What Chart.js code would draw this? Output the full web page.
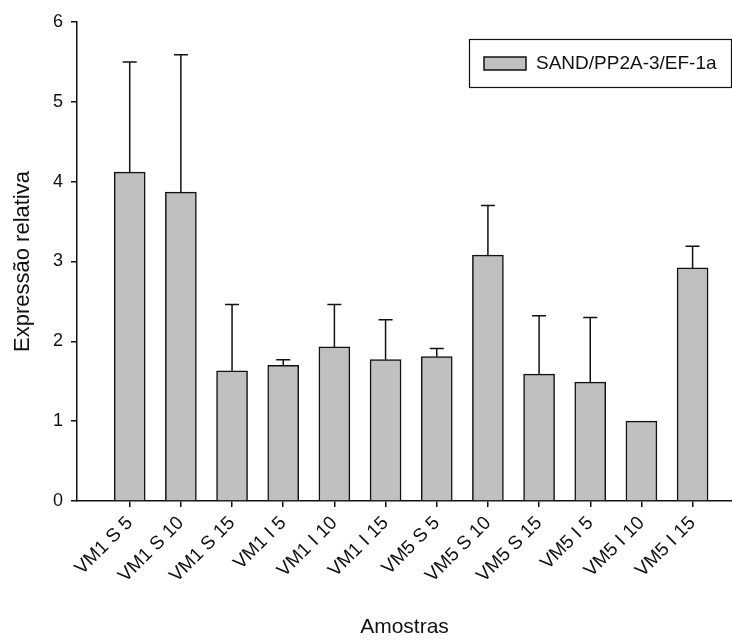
<!DOCTYPE html>
<html lang="pt">
<head>
<meta charset="UTF-8">
<title>Expressão relativa - Amostras</title>
<script src="https://cdn.jsdelivr.net/npm/chart.js"></script>
<style>
    body { margin: 0; background: #fff; }
    #wrap { width: 732px; height: 641px; }
</style>
</head>
<body>
<div id="wrap"><canvas id="expChart" width="732" height="641"></canvas></div>
<script>
// dados
const amostras = ['VM1 S 5', 'VM1 S 10', 'VM1 S 15', 'VM1 I 5', 'VM1 I 10', 'VM1 I 15',
                  'VM5 S 5', 'VM5 S 10', 'VM5 S 15', 'VM5 I 5', 'VM5 I 10', 'VM5 I 15'];
const medias = [4.12, 3.87, 1.63, 1.70, 1.93, 1.77, 1.81, 3.08, 1.59, 1.49, 1.00, 2.92];
const desvios = [1.38, 1.72, 0.83, 0.07, 0.53, 0.50, 0.10, 0.62, 0.73, 0.81, 0, 0.27];
const yTicks = [0, 1, 2, 3, 4, 5, 6];
const serieNome = 'SAND/PP2A-3/EF-1a';

const FONT = "Arial, 'Liberation Sans', sans-serif";

// barras de erro (só para cima) + legenda com caixa
const errorBars = {
    id: 'errorBars',
    afterDatasetsDraw(chart) {
        const ctx = chart.ctx;
        const y = chart.scales.y;
        const meta = chart.getDatasetMeta(0);
        ctx.save();
        ctx.strokeStyle = '#111';
        ctx.lineWidth = 1.5;
        meta.data.forEach((bar, i) => {
            if (!desvios[i]) return;
            const yTop = y.getPixelForValue(medias[i] + desvios[i]);
            ctx.beginPath();
            ctx.moveTo(bar.x, bar.y);
            ctx.lineTo(bar.x, yTop);
            ctx.moveTo(bar.x - 7, yTop);
            ctx.lineTo(bar.x + 7, yTop);
            ctx.stroke();
        });
        ctx.restore();
    }
};

const boxLegend = {
    id: 'boxLegend',
    afterDraw(chart) {
        const ctx = chart.ctx;
        const a = chart.chartArea;
        const bx = a.right - 263, by = a.top + 17, bw = 262, bh = 48;
        ctx.save();
        ctx.strokeStyle = '#111';
        ctx.lineWidth = 1.2;
        ctx.strokeRect(bx + 0.5, by + 0.5, bw, bh);
        ctx.fillStyle = '#c0c0c0';
        ctx.fillRect(bx + 15, by + 18, 42, 13);
        ctx.lineWidth = 1.5;
        ctx.strokeRect(bx + 15, by + 18, 42, 13);
        ctx.fillStyle = '#111';
        ctx.font = '19px ' + FONT;
        ctx.textBaseline = 'middle';
        ctx.fillText(chart.data.datasets[0].label, bx + 67, by + 25);
        ctx.restore();
    }
};

new Chart(document.getElementById('expChart'), {
    type: 'bar',
    data: {
        datasets: [{
            label: serieNome,
            data: medias.map((v, i) => ({ x: i + 1, y: v })),
            backgroundColor: '#c0c0c0',
            borderColor: '#111',
            borderWidth: 1.5,
            barThickness: 31
        }]
    },
    options: {
        responsive: false,
        animation: false,
        layout: { padding: { top: 22, right: 0, left: 0, bottom: 0 } },
        plugins: { legend: { display: false }, tooltip: { enabled: false } },
        scales: {
            x: {
                type: 'linear',
                offset: false,
                min: -0.03,
                max: 12.77,
                afterBuildTicks: s => { s.ticks = amostras.map((_, i) => ({ value: i + 1 })); },
                afterFit: s => { s.height = 140; s.paddingLeft = 0; s.paddingRight = 0; },
                grid: { offset: false, drawOnChartArea: false, drawTicks: true, tickLength: 6, color: '#111', lineWidth: 1.5 },
                border: { display: true, color: '#111', width: 1.5 },
                ticks: {
                    autoSkip: false,
                    minRotation: 45,
                    maxRotation: 45,
                    padding: 5,
                    color: '#111',
                    font: { family: FONT, size: 19 },
                    callback: v => amostras[v - 1]
                },
                title: {
                    display: true,
                    text: 'Amostras',
                    color: '#111',
                    font: { family: FONT, size: 21 },
                    padding: { top: 0, bottom: 1 }
                }
            },
            y: {
                min: 0,
                max: 6,
                afterBuildTicks: s => { s.ticks = yTicks.map(v => ({ value: v })); },
                afterFit: s => { s.width = 77; },
                grid: { drawOnChartArea: false, drawTicks: true, tickLength: 6, color: '#111', lineWidth: 1.5 },
                border: { display: true, color: '#111', width: 1.5 },
                ticks: { padding: 8, color: '#111', font: { family: FONT, size: 18 } },
                title: {
                    display: true,
                    text: 'Expressão relativa',
                    color: '#111',
                    font: { family: FONT, size: 22 },
                    padding: { top: 10, bottom: 0 }
                }
            }
        }
    },
    plugins: [errorBars, boxLegend]
});
</script>
</body>
</html>
